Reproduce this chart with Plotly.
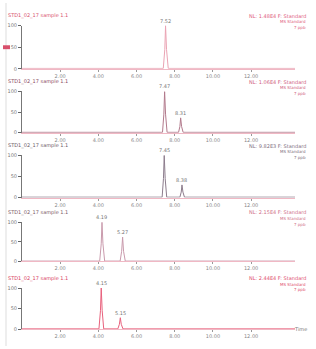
import plotly.graph_objects as go

# ---- data ----
left_headers = ["STD1_02_17 sample 1.1", "STD1_02_17 sample 1.1", "STD1_02_17 sample 1.1",
                "STD1_02_17 sample 1.1", "STD1_02_17 sample 1.1"]
right_headers = [["NL: 1.48E4 F: Standard", "MS Standard", "7 ppb"],
                 ["NL: 1.06E4 F: Standard", "MS Standard", "7 ppb"],
                 ["NL: 9.82E3 F: Standard", "MS Standard", "7 ppb"],
                 ["NL: 2.15E4 F: Standard", "MS Standard", "7 ppb"],
                 ["NL: 2.44E4 F: Standard", "MS Standard", "7 ppb"]]
times = [
    [0.0, 7.40, 7.48, 7.52, 7.57, 7.66, 14.3],
    [0.0, 7.36, 7.43, 7.47, 7.52, 7.60, 8.20, 8.27, 8.31, 8.36, 8.44, 14.3],
    [0.0, 7.34, 7.41, 7.45, 7.50, 7.58, 8.27, 8.34, 8.38, 8.43, 8.51, 14.3],
    [0.0, 4.07, 4.15, 4.19, 4.24, 4.33, 5.14, 5.22, 5.27, 5.32, 5.41, 14.3],
    [0.0, 4.03, 4.11, 4.15, 4.20, 4.28, 5.02, 5.10, 5.15, 5.20, 5.29, 14.3],
]
intens = [
    [1, 1, 45, 100, 45, 1, 1],
    [1, 1, 45, 100, 45, 1, 1, 15, 36, 15, 1, 1],
    [1, 1, 45, 100, 45, 1, 1, 13, 30, 13, 1, 1],
    [1, 1, 45, 100, 45, 1, 1, 26, 62, 26, 1, 1],
    [1, 1, 45, 100, 45, 1, 1, 12, 28, 12, 1, 1],
]
peak_rt = [[7.52], [7.47, 8.31], [7.45, 8.38], [4.19, 5.27], [4.15, 5.15]]
peak_h = [[100], [100, 36], [100, 30], [100, 62], [100, 28]]
peak_lbl = [["7.52"], ["7.47", "8.31"], ["7.45", "8.38"], ["4.19", "5.27"], ["4.15", "5.15"]]
x_ticks = [2, 4, 6, 8, 10, 12]
x_tick_text = ["2.00", "4.00", "6.00", "8.00", "10.00", "12.00"]
y_ticks = [0, 50, 100]
y_tick_text = ["0", "50", "100"]

# ---- styling ----
W, H = 316, 349
line_colors = ["#eaa3b3", "#b27a8c", "#8c7c8c", "#c99aac", "#e8607c"]
head_colors = ["#d8506c", "#8a4a5e", "#6a5a66", "#7a5a66", "#d8405e"]
right_colors = ["#e06080", "#d06080", "#807080", "#d07088", "#e05070"]
# pixel positions of the 100 and 0 levels of each panel
y100 = [23, 90, 155, 223, 290]
y0 = [67, 132, 198, 263, 332]
x_left, x_right = 22, 295
FONT = "DejaVu Sans"

fig = go.Figure()
layout = dict(width=W, height=H, margin=dict(l=0, r=0, t=0, b=0),
              paper_bgcolor="white", plot_bgcolor="white", showlegend=False,
              font=dict(family=FONT, size=5, color="#777"))
annotations = []
shapes = []
for i in range(5):
    ax = "" if i == 0 else str(i + 1)
    fig.add_trace(go.Scatter(x=times[i], y=intens[i], mode="lines",
                             line=dict(color=line_colors[i], width=1),
                             xaxis="x" + ax, yaxis="y" + ax, hoverinfo="skip"))
    dom_y = [1 - y0[i] / H, 1 - y100[i] / H]
    layout["xaxis" + ax] = dict(domain=[x_left / W, x_right / W], range=[0, 14.3],
                                anchor="y" + ax, tickvals=x_ticks, ticktext=x_tick_text,
                                ticks="outside", ticklen=2, tickcolor="#999",
                                showline=True, linecolor="#f0b8c4", linewidth=1,
                                showgrid=False, zeroline=False,
                                tickfont=dict(size=5, color="#888"))
    layout["yaxis" + ax] = dict(domain=dom_y, range=[0, 100], anchor="x" + ax,
                                tickvals=y_ticks, ticktext=y_tick_text,
                                ticks="outside", ticklen=3, tickcolor="#666",
                                showline=True, linecolor="#777", linewidth=1,
                                showgrid=False, zeroline=False,
                                tickfont=dict(size=5, color="#777"))
    for rt, h, lb in zip(peak_rt[i], peak_h[i], peak_lbl[i]):
        annotations.append(dict(x=rt, y=h, xref="x" + ax, yref="y" + ax, text=lb,
                                showarrow=False, yanchor="bottom", yshift=0,
                                font=dict(size=5, color="#777")))
    # headers
    annotations.append(dict(x=6 / W, y=1 - (y100[i] - 10) / H, xref="paper", yref="paper",
                            text=left_headers[i], showarrow=False, xanchor="left",
                            yanchor="middle", font=dict(size=5, color=head_colors[i])))
    for k, txt in enumerate(right_headers[i]):
        annotations.append(dict(x=308 / W, y=1 - (y100[i] - 10 + 6 * k) / H,
                                xref="paper", yref="paper", text=txt, showarrow=False,
                                xanchor="right", yanchor="middle",
                                font=dict(size=5 if k == 0 else 4, color=right_colors[i])))

annotations.append(dict(x=309 / W, y=1 - 332 / H, xref="paper", yref="paper", text="Time",
                        showarrow=False, xanchor="right", yanchor="middle",
                        font=dict(size=5, color="#777")))
shapes.append(dict(type="line", xref="paper", yref="paper", x0=6 / W, x1=6 / W,
                   y0=0, y1=1, line=dict(color="#dddddd", width=1)))
shapes.append(dict(type="rect", xref="paper", yref="paper", x0=3 / W, x1=10 / W,
                   y0=1 - 47 / H, y1=1 - 43 / H, line=dict(width=0), fillcolor="#d8506c"))
layout["annotations"] = annotations
layout["shapes"] = shapes
fig.update_layout(**layout)
fig.write_html("out.html", config={"displayModeBar": False, "staticPlot": True},
               post_script="document.body.style.margin='0';document.body.style.overflow='hidden';")
